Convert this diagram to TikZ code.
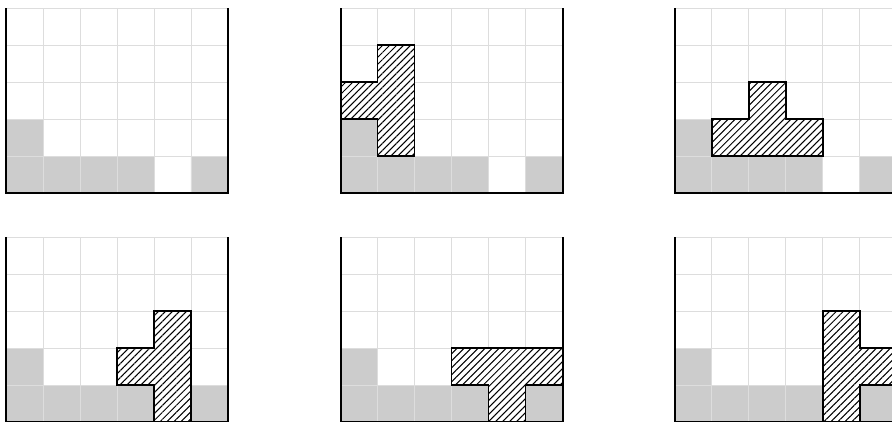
\documentclass[tikz,border=0pt]{standalone}
\usepackage{tikz}
\usetikzlibrary{patterns.meta}
\usepackage{xcolor}
\definecolor{settledgray}{RGB}{204, 204, 204}
\definecolor{gridgray}{RGB}{221, 221, 221}

% empty well with the settled blocks
\newcommand{\wellbase}{%
  \fill[settled] (0,0) rectangle (4,1) (5,0) rectangle (6,1) (0,1) rectangle (1,2);
  \draw[cellgrid] (0,0) grid (6,5);}
\newcommand{\wellwalls}{%
  \draw[wall] (0,5) -- (0,0) -- (6,0) -- (6,5);}

\begin{document}
\begin{tikzpicture}[
  settled/.style={fill=settledgray},
  cellgrid/.style={draw=gridgray,line width=0.6pt},
  wall/.style={draw=black,line width=1.6pt,line join=miter},
  piece/.style={draw=black,line width=1.1pt,fill=white,
    postaction={pattern={Lines[angle=45,distance=3.8pt,line width=0.8pt]}}}
]
  \useasboundingbox (-0.16,0.03) rectangle (23.95,11.41);
  \clip (-0.16,0.03) rectangle (23.95,11.41);

  % top row
  \begin{scope}[shift={(0,6.19)}]
    \wellbase
    \wellwalls
  \end{scope}
  \begin{scope}[shift={(9.05,6.19)}]
    \wellbase
    \draw[piece] (1,1) -- (2,1) -- (2,4) -- (1,4) -- (1,3) -- (0,3) -- (0,2) -- (1,2) -- cycle;
    \wellwalls
  \end{scope}
  \begin{scope}[shift={(18.08,6.19)}]
    \wellbase
    \draw[piece] (1,1) -- (4,1) -- (4,2) -- (3,2) -- (3,3) -- (2,3) -- (2,2) -- (1,2) -- cycle;
    \wellwalls
  \end{scope}

  % bottom row
  \begin{scope}[shift={(0,0)}]
    \wellbase
    \draw[piece] (4,0) -- (5,0) -- (5,3) -- (4,3) -- (4,2) -- (3,2) -- (3,1) -- (4,1) -- cycle;
    \wellwalls
  \end{scope}
  \begin{scope}[shift={(9.05,0)}]
    \wellbase
    \draw[piece] (4,0) -- (5,0) -- (5,1) -- (6,1) -- (6,2) -- (3,2) -- (3,1) -- (4,1) -- cycle;
    \wellwalls
  \end{scope}
  \begin{scope}[shift={(18.08,0)}]
    \wellbase
    \draw[piece] (4,0) -- (5,0) -- (5,1) -- (6,1) -- (6,2) -- (5,2) -- (5,3) -- (4,3) -- cycle;
    \wellwalls
  \end{scope}
\end{tikzpicture}
\end{document}
